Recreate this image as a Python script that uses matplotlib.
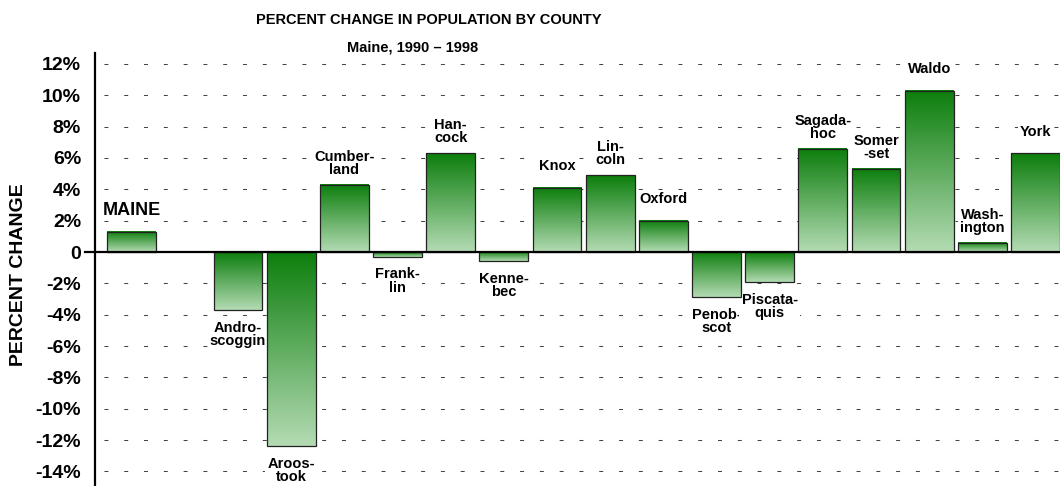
#!/usr/bin/env python3

import numpy as np
import matplotlib as mpl
mpl.use('Agg')
import matplotlib.pyplot as plt
from matplotlib.colors import to_rgb

##########################DATA#######################

labels = ['MAINE', 'Andro-\nscoggin', 'Aroos-\ntook', 'Cumber-\nland', 'Frank-\nlin',
          'Han-\ncock', 'Kenne-\nbec', 'Knox', 'Lin-\ncoln', 'Oxford', 'Penob-\nscot',
          'Piscata-\nquis', 'Sagada-\nhoc', 'Somer\n-set', 'Waldo', 'Wash-\nington', 'York']
# slot of each bar along the axis (one empty slot after MAINE)
slots = [0, 2, 3, 4, 5, 6, 7, 8, 9, 10, 11, 12, 13, 14, 15, 16, 17]
change = [1.3, -3.7, -12.4, 4.3, -0.3, 6.3, -0.6, 4.1, 4.9, 2.0, -2.9, -1.9,
          6.6, 5.3, 10.3, 0.6, 6.3]

yticks = [12, 10, 8, 6, 4, 2, 0, -2, -4, -6, -8, -10, -12, -14]
yticklabels = ['12%', '10%', '8%', '6%', '4%', '2%', '0', '-2%', '-4%', '-6%',
               '-8%', '-10%', '-12%', '-14%']

#########################Plot#########################

plt.rcParams['font.family'] = ['Liberation Sans', 'DejaVu Sans']
plt.rcParams['font.weight'] = 'bold'

W, H = 1060, 486
fig = plt.figure(figsize=(W / 100, H / 100), dpi=100)
ax = fig.add_axes([95 / W, 0, 965 / W, 433 / H])

dark = np.array(to_rgb('#0c7e0c'))
light = np.array(to_rgb('#b4dbb4'))
t = np.linspace(0, 1, 256)[:, None, None]
grad = dark * (1 - t) + light * t

width = 0.92
for x, v in zip(slots, change):
    top, bot = max(v, 0), min(v, 0)
    ax.imshow(grad, extent=[x - width / 2, x + width / 2, bot, top],
              aspect='auto', origin='upper', zorder=2, interpolation='bilinear')
ax.bar(slots, change, width=width, facecolor='none', edgecolor='#222222',
       linewidth=0.9, zorder=3)

# dashed grid
for y in yticks:
    if y == 0:
        continue
    ax.axhline(y, color='#444444', lw=0.75, ls=(10.4, (3.8, 15.2)), zorder=0.5)

# zero line, sticking out a bit to the left
ax.plot([-10 / 965, 1], [0, 0], color='black', lw=1.6,
        transform=ax.get_yaxis_transform(), clip_on=False, zorder=4)

for x, v, lab in zip(slots, change, labels):
    if lab == 'MAINE':
        ax.annotate(lab, (x, v), xytext=(0, 9), textcoords='offset points',
                    ha='center', va='bottom', fontsize=13, fontweight='bold',
                    zorder=1.5)
        continue
    off = 15.5 if v > 0 else -17.5
    ax.annotate(lab, (x, v), xytext=(0, off), textcoords='offset points',
                ha='center', va='center', fontsize=10.5, fontweight='bold',
                linespacing=0.92, zorder=1.5,
                bbox=dict(boxstyle='square,pad=0.15', fc='white', ec='none'))

ax.set_xlim(-0.69, 17.46)
ax.set_ylim(-14.93, 12.7)
ax.set_xticks([])
ax.set_yticks(yticks)
ax.set_yticklabels(yticklabels, fontsize=14, fontweight='bold')
ax.tick_params(axis='y', length=0, pad=10)
for s in ['top', 'right', 'bottom']:
    ax.spines[s].set_visible(False)
ax.spines['left'].set_linewidth(1.6)

fig.text(428.5 / W, 1 - 20 / H, 'PERCENT CHANGE IN POPULATION BY COUNTY',
         ha='center', va='center', fontsize=10.5, fontweight='bold')
fig.text(412.5 / W, 1 - 47 / H, 'Maine, 1990 \u2013 1998',
         ha='center', va='center', fontsize=10.5, fontweight='bold')
fig.text(19 / W, 1 - 275 / H, 'PERCENT CHANGE', rotation=90,
         ha='center', va='center', fontsize=14, fontweight='bold')

plt.savefig('out.png', dpi=100)
